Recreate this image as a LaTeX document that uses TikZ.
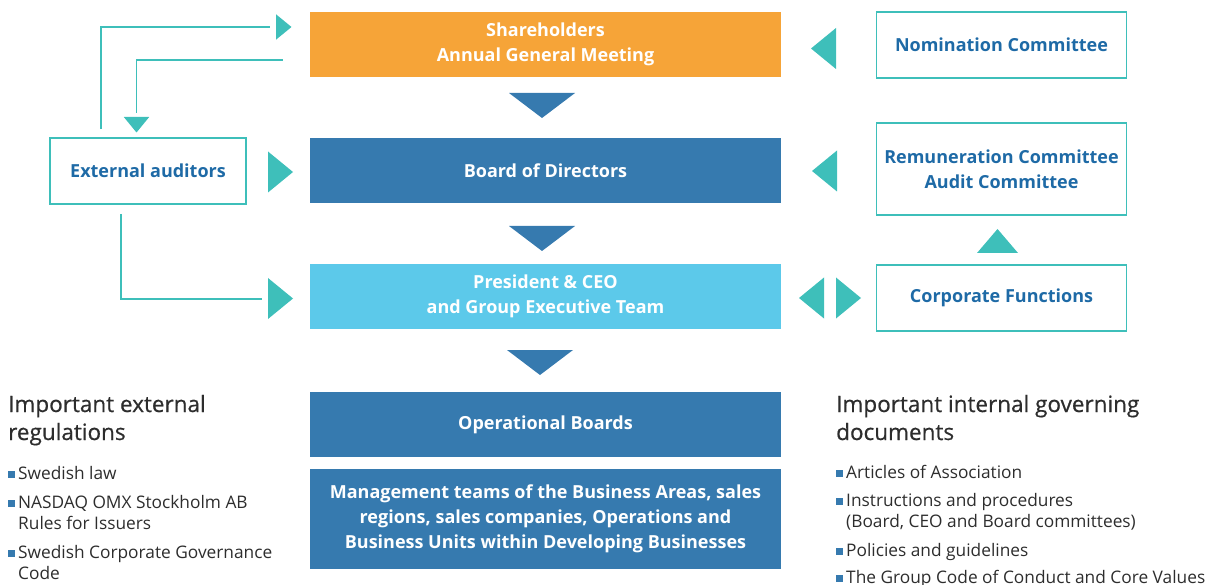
\documentclass[tikz,border=0pt]{standalone}
\usepackage{fontspec}
\setmainfont{Open Sans}
\newfontfamily\headfont{Open Sans}[FakeBold=0.6]
\usetikzlibrary{positioning,calc}

\definecolor{agmorange}{RGB}{246,164,56}
\definecolor{boardblue}{RGB}{54,122,175}
\definecolor{ceoblue}{RGB}{92,201,234}
\definecolor{govteal}{RGB}{62,191,186}
\definecolor{labelblue}{RGB}{30,106,166}
\definecolor{headgray}{RGB}{45,45,45}

\newcommand{\sqbullet}{{\color{boardblue}\rule[1pt]{7pt}{7pt}}\hspace{3pt}}

\begin{document}
\begin{tikzpicture}[x=1pt,y=-1pt,
    mainbox/.style={minimum width=471pt,minimum height=65pt,inner sep=0pt,align=center,text=white,font=\fontsize{18}{25}\selectfont\bfseries},
    sidebox/.style={draw=govteal,line width=1.6pt,minimum width=250pt,minimum height=65pt,inner sep=0pt,align=center,text=labelblue,font=\fontsize{18}{25}\selectfont\bfseries},
    link/.style={govteal,line width=1.6pt},
    heading/.style={anchor=base west,inner sep=0pt,align=left,text=headgray,font=\fontsize{22.5}{28}\headfont},
    listitem/.style={anchor=base west,inner sep=0pt,align=left,text=headgray,font=\fontsize{17.3}{21.5}\selectfont},
    pics/tdown/.style={code={\fill[boardblue] (-33,0) -- (33,0) -- (0,25) -- cycle;}},
    pics/tright/.style={code={\fill[govteal] (0,-20.5) -- (25,0) -- (0,20.5) -- cycle;}},
    pics/tleft/.style={code={\fill[govteal] (0,-20.5) -- (-25,0) -- (0,20.5) -- cycle;}},
    pics/tup/.style={code={\fill[govteal] (-20.5,0) -- (20.5,0) -- (0,-24) -- cycle;}},
]
\useasboundingbox (0,0) rectangle (1207,585);

% Main governance chain
\node[mainbox,fill=agmorange] (agm)   at (545.5,44.5) {Shareholders\\Annual General Meeting};
\node[mainbox,fill=boardblue] (board) at (545.5,170.5) {Board of Directors};
\node[mainbox,fill=ceoblue]   (ceo)   at (545.5,296.5) {President \& CEO\\and Group Executive Team};
\node[mainbox,fill=boardblue] (opb)   at (545.5,424.5) {Operational Boards};
\node[mainbox,fill=boardblue,minimum height=100pt] (mgmt) at (545.5,519)
  {Management teams of the Business Areas, sales\\regions, sales companies, Operations and\\Business Units within Developing Businesses};

\pic at (542,93)  {tdown};
\pic at (542,226) {tdown};
\pic at (540,350) {tdown};

% Side boxes
\node[sidebox,minimum width=196pt,minimum height=66pt] (aud) at (148,171) {External auditors};
\node[sidebox,minimum height=66pt] (nom)  at (1001.5,45)  {Nomination Committee};
\node[sidebox,minimum height=92pt] (rem)  at (1001.5,169) {Remuneration Committee\\Audit Committee};
\node[sidebox,minimum height=66pt] (corp) at (1001.5,298) {Corporate Functions};

\pic at (836,48.5) {tleft};
\pic at (837,171)  {tleft};
\pic at (824,298)  {tleft};
\pic at (836,298)  {tright};
\pic at (997.5,253) {tup};
\pic at (268,172)  {tright};
\pic at (268,298.5) {tright};

% Auditor reporting lines
\coordinate (audup)   at ($(aud.north)+(-47,-8)$);
\coordinate (agmfeed) at (270,27);
\coordinate (agmback) at ($(agm.west)+(-27,15.5)$);
\coordinate (audin)   at (136.5,113);
\coordinate (audout)  at ($(aud.south)+(-27,9)$);
\coordinate (ceofeed) at (262,299);

\draw[link] (audup) |- (agmfeed);
\draw[link] (agmback) -| (audin);
\draw[link] (audout) |- (ceofeed);
\pic[scale=0.62] at (276,27) {tright};
\pic[scale=0.62,rotate=-90] at (136.5,117) {tright};

% External regulations (base anchor sits on the last line)
\node[heading] (exthead) at (8,440) {Important external\\regulations};
\node[listitem] (ext1) at (8,479) {\sqbullet Swedish law};
\node[listitem] (ext2) at (8,529.5) {\sqbullet NASDAQ OMX Stockholm AB\\\hphantom{\sqbullet}Rules for Issuers};
\node[listitem] (ext3) at (8,579.5) {\sqbullet Swedish Corporate Governance\\\hphantom{\sqbullet}Code};

% Internal governing documents
\node[heading] (inthead) at (836,440) {Important internal governing\\documents};
\node[listitem] (int1) at (836,478) {\sqbullet Articles of Association};
\node[listitem] (int2) at (836,527.5) {\sqbullet Instructions and procedures\\\hphantom{\sqbullet}(Board, CEO and Board committees)};
\node[listitem] (int3) at (836,556) {\sqbullet Policies and guidelines};
\node[listitem] (int4) at (836,583) {\sqbullet The Group Code of Conduct and Core Values};
\end{tikzpicture}
\end{document}
